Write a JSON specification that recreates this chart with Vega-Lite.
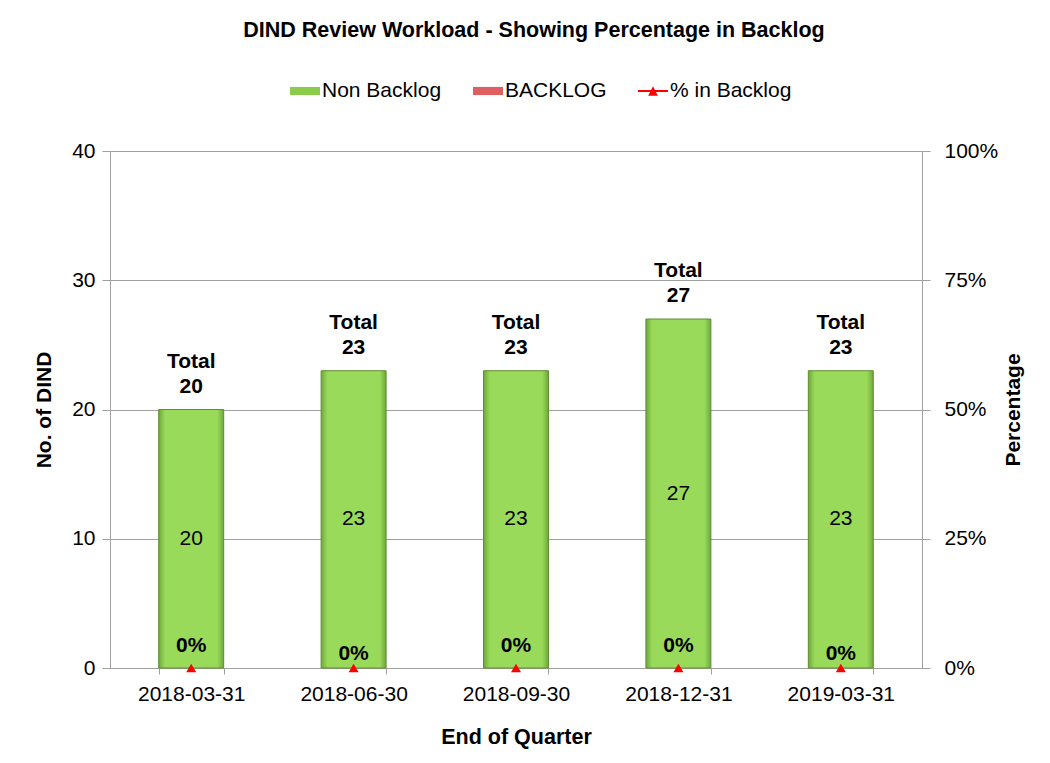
{
  "$schema": "https://vega.github.io/schema/vega-lite/v6.json",
  "autosize": "none",
  "width": 812,
  "height": 517,
  "padding": {"left": 110, "top": 151, "right": 128, "bottom": 95},
  "background": "white",
  "config": {
    "font": "Liberation Sans",
    "view": {"stroke": null},
    "text": {"font": "Liberation Sans"},
    "axisLeft": {
      "grid": true,
      "gridColor": "#A0A0A0",
      "domainColor": "#A0A0A0",
      "tickColor": "#A0A0A0",
      "ticks": true,
      "tickSize": 8,
      "labelFontSize": 21,
      "labelColor": "black",
      "labelFont": "Liberation Sans",
      "labelPadding": 7,
      "titleFont": "Liberation Sans",
      "titleFontSize": 21,
      "titleFontWeight": "bold",
      "titleColor": "black",
      "titlePadding": 17
    },
    "axisRight": {
      "grid": false,
      "domainColor": "#A0A0A0",
      "tickColor": "#A0A0A0",
      "ticks": true,
      "tickSize": 8,
      "labelFontSize": 21,
      "labelColor": "black",
      "labelFont": "Liberation Sans",
      "labelPadding": 14,
      "titleFont": "Liberation Sans",
      "titleFontSize": 21,
      "titleFontWeight": "bold",
      "titleColor": "black",
      "titleAngle": 270,
      "titleBaseline": "top",
      "titlePadding": 5
    }
  },
  "title": {
    "text": "DIND Review Workload - Showing Percentage in Backlog",
    "fontSize": 21.5,
    "fontWeight": "bold",
    "font": "Liberation Sans",
    "color": "black",
    "anchor": "middle",
    "dx": 18,
    "offset": 35
  },
  "data": {
    "values": [
      {"quarter": "2018-03-31", "NonBacklog": 20, "Backlog": 0, "Total": 20, "Pct": 0},
      {"quarter": "2018-06-30", "NonBacklog": 23, "Backlog": 0, "Total": 23, "Pct": 0},
      {"quarter": "2018-09-30", "NonBacklog": 23, "Backlog": 0, "Total": 23, "Pct": 0},
      {"quarter": "2018-12-31", "NonBacklog": 27, "Backlog": 0, "Total": 27, "Pct": 0},
      {"quarter": "2019-03-31", "NonBacklog": 23, "Backlog": 0, "Total": 23, "Pct": 0}
    ]
  },
  "encoding": {
    "x": {
      "field": "quarter",
      "type": "nominal",
      "sort": null,
      "scale": {"paddingInner": 0.6, "paddingOuter": 0.3},
      "axis": {
        "title": "End of Quarter",
        "labelAngle": 0,
        "ticks": true,
        "tickBand": "extent",
        "domainColor": "#A0A0A0",
        "tickColor": "#A0A0A0",
        "tickSize": 6,
        "labelFontSize": 21,
        "labelColor": "black",
        "labelFont": "Liberation Sans",
        "labelPadding": 9,
        "titleFont": "Liberation Sans",
        "titleFontSize": 21.5,
        "titleFontWeight": "bold",
        "titleColor": "black",
        "titlePadding": 22
      }
    }
  },
  "layer": [
    {
      "layer": [
        {
          "mark": {
            "type": "bar",
            "fill": {
              "gradient": "linear",
              "x1": 0, "x2": 1, "y1": 0, "y2": 0,
              "stops": [
                {"offset": 0, "color": "#6FA83C"},
                {"offset": 0.1, "color": "#9ADA5A"},
                {"offset": 0.9, "color": "#9ADA5A"},
                {"offset": 1, "color": "#6FA83C"}
              ]
            },
            "stroke": "#5E8E30",
            "strokeWidth": 1
          },
          "encoding": {
            "y": {
              "field": "NonBacklog",
              "type": "quantitative",
              "scale": {"domain": [0, 40]},
              "axis": {"orient": "left", "title": "No. of DIND", "values": [0, 10, 20, 30, 40]}
            }
          }
        },
        {
          "transform": [{"calculate": "datum.NonBacklog / 2", "as": "mid"}],
          "mark": {"type": "text", "fontSize": 21, "color": "black"},
          "encoding": {
            "y": {
              "field": "mid",
              "type": "quantitative",
              "scale": {"domain": [0, 40]},
              "axis": {"orient": "left", "title": "No. of DIND", "values": [0, 10, 20, 30, 40]}
            },
            "text": {"field": "NonBacklog", "type": "quantitative"}
          }
        },
        {
          "mark": {"type": "text", "text": "Total", "fontSize": 21, "fontWeight": "bold", "color": "black", "dy": -48},
          "encoding": {
            "y": {
              "field": "Total",
              "type": "quantitative",
              "scale": {"domain": [0, 40]},
              "axis": {"orient": "left", "title": "No. of DIND", "values": [0, 10, 20, 30, 40]}
            }
          }
        },
        {
          "mark": {"type": "text", "fontSize": 21, "fontWeight": "bold", "color": "black", "dy": -23},
          "encoding": {
            "y": {
              "field": "Total",
              "type": "quantitative",
              "scale": {"domain": [0, 40]},
              "axis": {"orient": "left", "title": "No. of DIND", "values": [0, 10, 20, 30, 40]}
            },
            "text": {"field": "Total", "type": "quantitative"}
          }
        },
        {
          "transform": [{"filter": "datum.Total < 0"}],
          "mark": {"type": "point", "filled": true, "opacity": 1},
          "encoding": {
            "color": {
              "field": "series",
              "type": "nominal",
              "scale": {
                "domain": ["Non Backlog", "BACKLOG", "% in Backlog"],
                "range": ["#8BCB4C", "#DE5F60", "#FF0000"]
              },
              "legend": {
                "title": null,
                "orient": "none",
                "direction": "horizontal",
                "legendX": 180,
                "legendY": -75,
                "labelFontSize": 21,
                "labelFont": "Liberation Sans",
                "labelColor": "black",
                "labelOffset": 2,
                "columnPadding": 31,
                "symbolSize": 900,
                "symbolStrokeWidth": 0,
                "symbolOpacity": 1
              }
            },
            "shape": {
              "field": "series",
              "type": "nominal",
              "scale": {
                "domain": ["Non Backlog", "BACKLOG", "% in Backlog"],
                "range": ["M-1,-0.27H1V0.27H-1Z", "M-1,-0.27H1V0.27H-1Z", "M-1,-0.07H1V0.07H-1Z M-0.32,0.32L0,-0.32L0.32,0.32Z"]
              },
              "legend": {
                "title": null,
                "orient": "none",
                "direction": "horizontal",
                "legendX": 180,
                "legendY": -75,
                "labelFontSize": 21,
                "labelFont": "Liberation Sans",
                "labelColor": "black",
                "labelOffset": 2,
                "columnPadding": 31,
                "symbolSize": 900,
                "symbolStrokeWidth": 0,
                "symbolOpacity": 1
              }
            }
          }
        }
      ]
    },
    {
      "layer": [
        {
          "mark": {"type": "point", "shape": "triangle-up", "filled": true, "color": "#FF0000", "opacity": 1, "size": 100},
          "encoding": {
            "y": {
              "field": "Pct",
              "type": "quantitative",
              "scale": {"domain": [0, 1]},
              "axis": {"orient": "right", "title": "Percentage", "format": ".0%", "values": [0, 0.25, 0.5, 0.75, 1]}
            }
          }
        },
        {
          "transform": [{"filter": "datum.quarter != '2018-06-30' && datum.quarter != '2019-03-31'"}],
          "mark": {"type": "text", "fontSize": 21, "fontWeight": "bold", "color": "black", "dy": -22},
          "encoding": {
            "y": {
              "field": "Pct",
              "type": "quantitative",
              "scale": {"domain": [0, 1]},
              "axis": {"orient": "right", "title": "Percentage", "format": ".0%", "values": [0, 0.25, 0.5, 0.75, 1]}
            },
            "text": {"field": "Pct", "type": "quantitative", "format": ".0%"}
          }
        },
        {
          "transform": [{"filter": "datum.quarter == '2018-06-30' || datum.quarter == '2019-03-31'"}],
          "mark": {"type": "text", "fontSize": 21, "fontWeight": "bold", "color": "black", "dy": -14},
          "encoding": {
            "y": {
              "field": "Pct",
              "type": "quantitative",
              "scale": {"domain": [0, 1]},
              "axis": {"orient": "right", "title": "Percentage", "format": ".0%", "values": [0, 0.25, 0.5, 0.75, 1]}
            },
            "text": {"field": "Pct", "type": "quantitative", "format": ".0%"}
          }
        }
      ]
    }
  ],
  "resolve": {"scale": {"y": "independent"}}
}
